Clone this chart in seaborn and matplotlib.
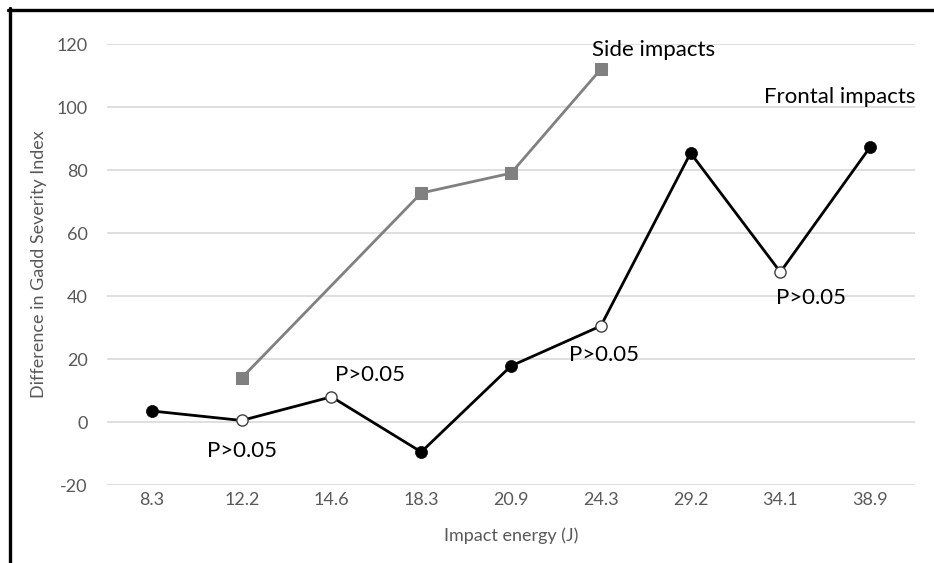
import numpy as np
import pandas as pd
import matplotlib
matplotlib.use('Agg')
import matplotlib.pyplot as plt
from matplotlib.lines import Line2D
import seaborn as sns

# 数据
energy = ['8.3', '12.2', '14.6', '18.3', '20.9', '24.3', '29.2', '34.1', '38.9']
frontal = [3.5, 0.5, 8.0, -9.5, 17.8, 30.5, 85.4, 47.6, 87.3]
frontal_sig = [True, False, False, True, True, False, True, False, True]  # 空心点 = P>0.05
side = [np.nan, 14.0, np.nan, 72.7, 79.0, 112.0, np.nan, np.nan, np.nan]

sns.set_theme(style='white')
plt.rcParams['font.family'] = ['Lato', 'DejaVu Sans']
plt.rcParams['axes.unicode_minus'] = False

df_f = pd.DataFrame({'energy': energy, 'gsi': frontal, 'sig': frontal_sig})
df_s = pd.DataFrame({'energy': energy, 'gsi': side}).dropna()

fig = plt.figure(figsize=(9.34, 5.63), dpi=100)
ax = fig.add_axes([0.1146, 0.1385, 0.8651, 0.7833])

# 正面撞击（黑线）
sns.lineplot(data=df_f, x='energy', y='gsi', color='black', lw=2, ax=ax, sort=False)
# 侧面撞击（灰线 + 方块）
sns.lineplot(data=df_s, x='energy', y='gsi', color='#808080', lw=2, marker='s',
             markersize=9, markeredgecolor='#808080', ax=ax, sort=False)
sns.scatterplot(data=df_f[df_f['sig']], x='energy', y='gsi', color='black', s=75,
                edgecolor='black', linewidth=0.5, ax=ax, zorder=5)
sns.scatterplot(data=df_f[~df_f['sig']], x='energy', y='gsi', color='white', s=65,
                edgecolor='#404040', linewidth=1, ax=ax, zorder=5)

ax.set_xlim(-0.5, len(energy) - 0.5)
ax.set_ylim(-20, 120)
ax.set_yticks(range(-20, 121, 20))
ax.grid(axis='y', color='#d9d9d9', lw=1.2)
ax.set_axisbelow(True)
sns.despine(ax=ax, left=True, bottom=True)
ax.tick_params(length=0, labelsize=13, colors='#595959')
ax.tick_params(axis='y', pad=14)
ax.tick_params(axis='x', pad=5)
ax.set_xlabel('Impact energy (J)', fontsize=13, color='#595959', labelpad=14)
ax.set_ylabel('Difference in Gadd Severity Index', fontsize=13, color='#595959', labelpad=7)

# 标注
notes = [(frontal, 1, 'P>0.05', 0, -31),
         (frontal, 2, 'P>0.05', 39, 22),
         (frontal, 5, 'P>0.05', 3, -29),
         (frontal, 7, 'P>0.05', 31, -26),
         (frontal, 8, 'Frontal impacts', -30, 50),
         (side, 5, 'Side impacts', 53, 19)]
for ys, i, txt, dx, dy in notes:
    ax.annotate(txt, xy=(i, ys[i]), xytext=(dx, dy), textcoords='offset pixels',
                ha='center', va='center', fontsize=16, color='black')

# 外框（上、左）
fig.add_artist(Line2D([0.0086, 1.0], [0.982, 0.982], transform=fig.transFigure, color='black', lw=2.4))
fig.add_artist(Line2D([0.0107, 0.0107], [0.0, 0.985], transform=fig.transFigure, color='black', lw=2.4))

plt.savefig('out.png', dpi=100)
